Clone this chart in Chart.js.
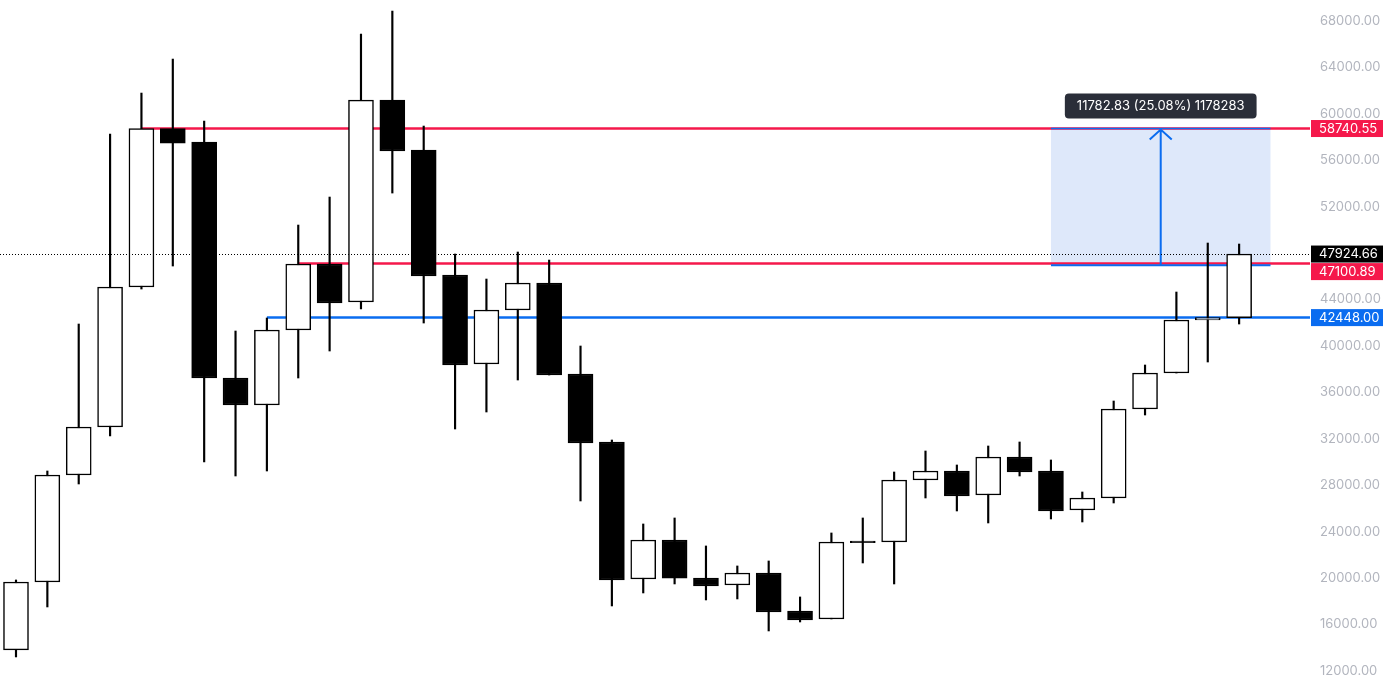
<!DOCTYPE html>
<html>
<head>
<meta charset="utf-8">
<script src="https://cdn.jsdelivr.net/npm/chart.js@4.4.1/dist/chart.umd.min.js"></script>
<style>
  html, body { margin: 0; padding: 0; background: #fff; }
  #wrap { width: 1383px; height: 680px; }
</style>
</head>
<body>
<div id="wrap"><canvas id="chart" width="1383" height="680"></canvas></div>
<script>
// candle data (oldest first)
const opens  = [13809, 19667, 28886, 33021, 45083, 58740, 57575, 37243, 34916, 41378,
                47064, 43790, 61194, 56886, 46117, 38449, 43101, 45427, 37587, 31729,
                19926, 23286, 20012, 19409, 20442, 17169, 16479, 23180, 23113, 28455,
                29230, 27162, 30436, 29230, 25870, 26904, 34572, 37673, 42240, 42448];
const highs  = [19839, 29230, 41895, 58264, 61797, 64726, 59385, 41292, 42413, 50424,
                52837, 66880, 68862, 58954, 47926, 45772, 48098, 47409, 40000, 31900,
                24664, 25181, 22769, 21046, 21476, 18375, 23889, 25181, 29144, 30953,
                29747, 31384, 31729, 30178, 27421, 35261, 38363, 44652, 48874, 48788];
const lows   = [13205, 17513, 28110, 32246, 44910, 46892, 30006, 28799, 29230, 37243,
                39569, 43187, 53181, 41981, 32849, 34313, 37070, 37501, 26646, 17599,
                18719, 19495, 18116, 18203, 15445, 16220, 16479, 21304, 19495, 26904,
                25784, 24750, 28799, 25095, 24836, 26473, 34055, 37673, 38621, 41895];
const closes = [19667, 28886, 33021, 45083, 58740, 57489, 37243, 34916, 41378, 47064,
                43704, 61194, 56800, 46030, 38363, 43101, 45427, 37501, 31643, 19839,
                23286, 20000, 19322, 20442, 17082, 16393, 23113, 23050, 28455, 29230,
                27076, 30436, 29144, 25784, 26904, 34572, 37673, 42240, 42448, 47924.66];

const yTicks = [12000, 16000, 20000, 24000, 28000, 32000, 36000, 40000,
                44000, 48000, 52000, 56000, 60000, 64000, 68000];

// horizontal levels: value, colour, first candle index
const levelValues = [58740.55, 47100.89, 42448.00];
const levelColors = ['#f5184b', '#f5184b', '#0a6cf0'];
const levelStarts = [4, 9, 8];

const lastPrice = 47924.66;

// measure box (candle index range and price range)
const boxFrom = 33, boxTo = 40;
const boxLow = 46957.72, boxHigh = 58740.55;
const measureText = '11782.83 (25.08%) 1178283';

const idx = opens.map((_, i) => i);
const bodies = idx.map(i => ({ x: i, y: [opens[i], closes[i]] }));
const wicks = idx.map(i => ({ x: i, y: [lows[i], highs[i]] }));

const FONT = '13px Inter, "Noto Sans", sans-serif';

function priceTag(ctx, area, y, text, bg) {
    ctx.fillStyle = bg;
    ctx.fillRect(area.right + 1, y - 8.5, 73, 17);
    ctx.fillStyle = '#fff';
    ctx.font = FONT;
    ctx.textAlign = 'left';
    ctx.textBaseline = 'middle';
    ctx.fillText(text, area.right + 9, y + 0.5);
}

const overlay = {
    id: 'overlay',
    beforeDatasetsDraw(chart) {
        const { ctx, chartArea: area, scales: { x, y } } = chart;
        ctx.save();
        // measure box
        const bx1 = x.getPixelForValue(boxFrom), bx2 = x.getPixelForValue(boxTo);
        const by1 = y.getPixelForValue(boxHigh), by2 = y.getPixelForValue(boxLow);
        ctx.fillStyle = '#dee8fa';
        ctx.fillRect(bx1, by1, bx2 - bx1, by2 - by1);

        // level lines
        levelValues.forEach((v, i) => {
            const py = y.getPixelForValue(v);
            ctx.strokeStyle = levelColors[i];
            ctx.lineWidth = 2.5;
            ctx.beginPath();
            ctx.moveTo(x.getPixelForValue(levelStarts[i]), py);
            ctx.lineTo(area.right, py);
            ctx.stroke();
        });

        // box edges
        ctx.strokeStyle = '#0a6cf0';
        ctx.lineWidth = 1.5;
        ctx.beginPath();
        ctx.moveTo(bx1, by1); ctx.lineTo(bx2, by1);
        ctx.stroke();
        ctx.lineWidth = 2;
        ctx.beginPath();
        ctx.moveTo(bx1, by2); ctx.lineTo(bx2, by2);
        ctx.stroke();

        // arrow
        const ax = (bx1 + bx2) / 2;
        ctx.lineWidth = 2;
        ctx.beginPath();
        ctx.moveTo(ax, by2); ctx.lineTo(ax, by1 + 1);
        ctx.moveTo(ax - 11, by1 + 11); ctx.lineTo(ax, by1 + 1); ctx.lineTo(ax + 11, by1 + 11);
        ctx.stroke();
        ctx.restore();
    },
    afterDraw(chart) {
        const { ctx, chartArea: area, scales: { x, y } } = chart;
        ctx.save();
        // last price dotted line
        const ly = Math.round(y.getPixelForValue(lastPrice)) + 0.5;
        ctx.strokeStyle = '#000';
        ctx.lineWidth = 1;
        ctx.setLineDash([1, 2]);
        ctx.beginPath();
        ctx.moveTo(area.left, ly); ctx.lineTo(area.right, ly);
        ctx.stroke();
        ctx.setLineDash([]);

        // measure label
        const bx1 = x.getPixelForValue(boxFrom), bx2 = x.getPixelForValue(boxTo);
        const by1 = y.getPixelForValue(boxHigh);
        const cx = (bx1 + bx2) / 2, cy = by1 - 22.5;
        ctx.font = FONT;
        const w = ctx.measureText(measureText).width + 24;
        ctx.fillStyle = '#2a2e39';
        ctx.beginPath();
        ctx.roundRect(cx - w / 2, cy - 12.5, w, 25, 4);
        ctx.fill();
        ctx.fillStyle = '#fff';
        ctx.textAlign = 'center';
        ctx.textBaseline = 'middle';
        ctx.fillText(measureText, cx, cy + 0.5);

        // axis price tags
        priceTag(ctx, area, y.getPixelForValue(levelValues[0]), levelValues[0].toFixed(2), levelColors[0]);
        priceTag(ctx, area, y.getPixelForValue(lastPrice), lastPrice.toFixed(2), '#000');
        priceTag(ctx, area, y.getPixelForValue(levelValues[1]) + 8, levelValues[1].toFixed(2), levelColors[1]);
        priceTag(ctx, area, y.getPixelForValue(levelValues[2]), levelValues[2].toFixed(2), levelColors[2]);
        ctx.restore();
    }
};

new Chart(document.getElementById('chart'), {
    type: 'bar',
    data: {
        datasets: [{
            label: 'body',
            data: bodies,
            order: 0,
            grouped: false,
            barThickness: 25,
            borderWidth: 1.5,
            borderSkipped: false,
            borderColor: '#000',
            backgroundColor: c => {
                const i = c.dataIndex;
                return closes[i] >= opens[i] ? '#fff' : '#000';
            }
        }, {
            label: 'wick',
            data: wicks,
            order: 1,
            grouped: false,
            barThickness: 1.5,
            borderWidth: 0,
            backgroundColor: '#000'
        }]
    },
    options: {
        responsive: false,
        animation: false,
        layout: { padding: 0 },
        plugins: { legend: { display: false }, tooltip: { enabled: false } },
        scales: {
            x: {
                type: 'linear',
                display: false,
                offset: false,
                bounds: 'data',
                min: -0.51,
                max: 41.26
            },
            y: {
                position: 'right',
                min: 11225,
                max: 69810,
                // invisible tick marks only push the labels away from the plot
                grid: { display: true, drawOnChartArea: false, drawTicks: true, tickLength: 10, color: 'rgba(0,0,0,0)' },
                border: { display: false },
                afterBuildTicks: s => { s.ticks = yTicks.map(v => ({ value: v })); },
                afterFit: s => { s.width = 73; },
                ticks: {
                    padding: 0,
                    color: '#b2b5be',
                    font: { family: 'Inter, "Noto Sans", sans-serif', size: 13, lineHeight: 0.01 },
                    callback: v => Number(v).toFixed(2)
                }
            }
        }
    },
    plugins: [overlay]
});
</script>
</body>
</html>
